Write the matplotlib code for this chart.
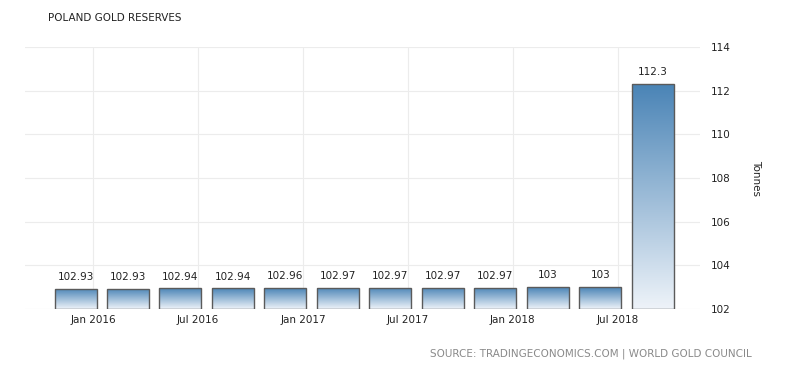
import matplotlib
matplotlib.use('Agg')
import matplotlib.pyplot as plt
import numpy as np

# Data (quarterly, month index relative to Jan 2016)
months = [-1, 2, 5, 8, 11, 14, 17, 20, 23, 26, 29, 32]
reserves = [102.93, 102.93, 102.94, 102.94, 102.96, 102.97, 102.97, 102.97, 102.97, 103, 103, 112.3]
labels = ['102.93', '102.93', '102.94', '102.94', '102.96', '102.97', '102.97', '102.97', '102.97', '103', '103', '112.3']
tick_pos = [0, 6, 12, 18, 24, 30]
tick_labels = ['Jan 2016', 'Jul 2016', 'Jan 2017', 'Jul 2017', 'Jan 2018', 'Jul 2018']
base = 102

plt.rcParams['font.family'] = ['DejaVu Sans']

fig = plt.figure(figsize=(8, 3.73), dpi=100)
ax = fig.add_axes([0.031, 0.1716, 0.844, 0.7024])

bars = ax.bar(months, np.array(reserves) - base, bottom=base, width=2.4,
              facecolor='none', edgecolor='#5a5a5a', linewidth=1, zorder=3)

# gradient fill for each bar
grad = np.linspace(0, 1, 256).reshape(-1, 1)
cmap = matplotlib.colors.LinearSegmentedColormap.from_list('g', ['#eef3f9', '#4a84b6'])
for b in bars:
    x0, y0 = b.get_x(), b.get_y()
    w, h = b.get_width(), b.get_height()
    im = ax.imshow(grad, extent=[x0, x0 + w, y0, y0 + h], origin='lower',
                   cmap=cmap, aspect='auto', zorder=2)
    im.set_clip_path(b)

for m, v, t in zip(months, reserves, labels):
    ax.annotate(t, (m, v), textcoords='offset points', xytext=(0, 5),
                ha='center', va='bottom', fontsize=7.5, color='#222222')

ax.set_xlim(-3.9, 34.7)
ax.set_ylim(102, 114)
ax.set_yticks([102, 104, 106, 108, 110, 112, 114])
ax.set_xticks(tick_pos)
ax.set_xticklabels(tick_labels)
ax.yaxis.tick_right()
ax.tick_params(axis='both', length=0, labelsize=7.5, colors='#222222')
ax.tick_params(axis='y', pad=8)
ax.tick_params(axis='x', pad=4)
ax.grid(True, color='#ececec', linewidth=0.8, zorder=0)
ax.set_axisbelow(True)
for s in ax.spines.values():
    s.set_visible(False)

ax.yaxis.set_label_position('right')
ax.set_ylabel('Tonnes', rotation=-90, fontsize=7.5, color='#222222', labelpad=22)

fig.text(0.06, 0.952, 'POLAND GOLD RESERVES', fontsize=7.5, color='#222222', va='center')
fig.text(0.94, 0.052, 'SOURCE: TRADINGECONOMICS.COM | WORLD GOLD COUNCIL',
         fontsize=7.5, color='#8a8a8a', ha='right', va='center')

plt.savefig('out.png', dpi=100)
